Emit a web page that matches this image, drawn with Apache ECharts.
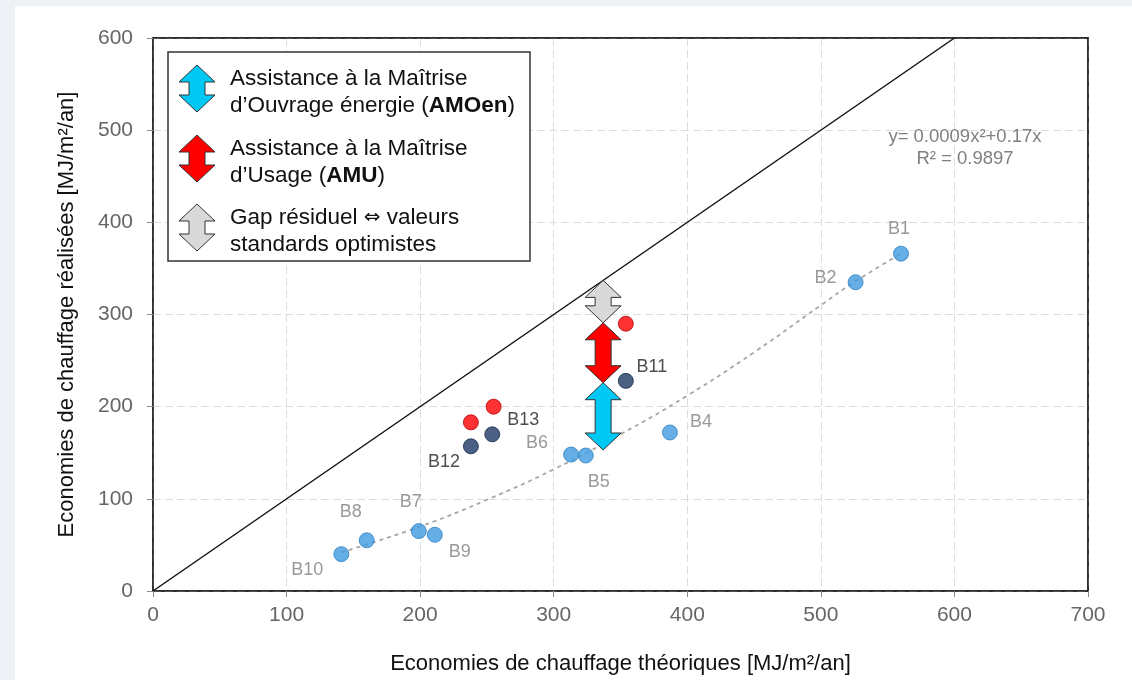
<!DOCTYPE html>
<html>
<head>
<meta charset="utf-8">
<script src="https://cdn.jsdelivr.net/npm/echarts@6/dist/echarts.min.js"></script>
<style>
  html, body { margin: 0; padding: 0; background: #eef2f6; }
  #chart { width: 1132px; height: 680px; }
</style>
</head>
<body>
<div id="chart"></div>
<script>
// buildings measured (B1..B10)
const lightNames = ['B1', 'B2', 'B4', 'B5', 'B6', 'B7', 'B8', 'B9', 'B10']
const lightX = [560, 526, 387, 324, 313, 199, 160, 211, 141]
const lightY = [366, 335, 172, 147, 148, 65, 55, 61, 40]

// buildings with AMOen (after)
const darkNames = ['B11', 'B12', 'B13']
const darkX = [354, 238, 254]
const darkY = [228, 157, 170]

// same buildings with AMU
const redX = [354, 238, 255]
const redY = [290, 183, 200]

// dotted trend curve
const trendX = [141, 200, 250, 300, 350, 400, 450, 500, 526, 560]
const trendY = [42, 70, 99, 132, 170, 212, 259, 310, 336, 366]

// y = x reference line
const diagX = [0, 600]
const diagY = [0, 600]

// stacked gap arrows at x = 337
const arrowX = [337, 337, 337]
const arrowTop = [337, 291, 226]
const arrowBottom = [291, 226, 153]

const xTicks = [0, 100, 200, 300, 400, 500, 600, 700]
const yTicks = [0, 100, 200, 300, 400, 500, 600]

const arrowColors = ['#d9d9d9', '#ff0000', '#00c8f5']
const labelOffsets = {
  B1: [-2, -25], B2: [-30, -4], B4: [31, -10], B5: [13, 27], B6: [-34, -12],
  B7: [-8, -29], B8: [-16, -28], B9: [25, 17], B10: [-34, 16],
  B11: [26, -14], B12: [-27, 16], B13: [31, -14],
}

function arrowPoints(cx, top, bot, hw, sw, hh) {
  return [
    [cx, top], [cx + hw, top + hh], [cx + sw, top + hh], [cx + sw, bot - hh],
    [cx + hw, bot - hh], [cx, bot], [cx - hw, bot - hh], [cx - sw, bot - hh],
    [cx - sw, top + hh], [cx - hw, top + hh],
  ]
}

function pointLabel(color) {
  return {
    show: true,
    position: 'inside',
    color: color,
    fontSize: 18,
    fontFamily: 'Liberation Sans',
    formatter: p => p.name,
  }
}

function withLabels(names, xs, ys) {
  return names.map((n, i) => ({
    name: n,
    value: [xs[i], ys[i]],
    label: { offset: labelOffsets[n] },
  }))
}

const chart = echarts.init(document.getElementById('chart'))
const font = 'Liberation Sans'

const legendItems = [
  { color: '#00c8f5', top: 65, lines: ['Assistance à la Maîtrise', 'd’Ouvrage énergie ({b|AMOen})'] },
  { color: '#ff0000', top: 135, lines: ['Assistance à la Maîtrise', 'd’Usage ({b|AMU})'] },
  { color: '#d9d9d9', top: 204, lines: ['Gap résiduel {s|⇔} valeurs', 'standards optimistes'] },
]

const legendGraphics = [
  {
    type: 'rect',
    shape: { x: 168, y: 52, width: 362, height: 209 },
    style: { fill: '#fff', stroke: '#333', lineWidth: 1.5 },
    z: 10,
  },
]
legendItems.forEach(it => {
  legendGraphics.push({
    type: 'polygon',
    shape: { points: arrowPoints(197, it.top, it.top + 47, 18, 8, 17) },
    style: { fill: it.color, stroke: '#333', lineWidth: 1 },
    z: 11,
  })
  legendGraphics.push({
    type: 'text',
    x: 230,
    y: it.top,
    style: {
      text: it.lines.join('\n'),
      fill: '#111',
      fontSize: 22.5,
      fontFamily: font,
      lineHeight: 27,
      rich: {
        b: { fontWeight: 'bold', fontSize: 22.5, fontFamily: font, fill: '#111', lineHeight: 27 },
        s: { fontSize: 20, fontFamily: 'DejaVu Sans', fill: '#111', lineHeight: 27 },
      },
    },
    z: 11,
  })
})

const frameAxis = {
  show: true,
  axisLine: { show: true, onZero: false, lineStyle: { color: '#222', width: 1.5 } },
  axisTick: { show: false },
  axisLabel: { show: false },
  splitLine: { show: false },
}

chart.setOption({
  backgroundColor: '#eef2f6',
  animation: false,
  graphic: [
    {
      type: 'rect',
      shape: { x: 15, y: 6, width: 1117, height: 674 },
      style: { fill: '#fff' },
      z: -10,
    },
    ...legendGraphics,
    {
      type: 'text',
      x: 965,
      y: 126,
      style: {
        text: 'y= 0.0009x²+0.17x\nR² = 0.9897',
        fill: '#808080',
        fontSize: 18.5,
        fontFamily: font,
        lineHeight: 22,
        align: 'center',
      },
      z: 5,
    },
  ],
  grid: {
    left: 153,
    top: 38,
    width: 935,
    height: 553,
    show: true,
    backgroundColor: '#fff',
    borderColor: '#222',
    borderWidth: 1.5,
  },
  xAxis: [
    {
      type: 'value',
      min: xTicks[0],
      max: xTicks[xTicks.length - 1],
      interval: 100,
      name: 'Economies de chauffage théoriques [MJ/m²/an]',
      nameLocation: 'middle',
      nameGap: 62,
      nameTextStyle: { color: '#111', fontSize: 22, fontFamily: font },
      axisLine: { lineStyle: { color: '#222', width: 1.5 } },
      axisTick: { show: true, length: 6, lineStyle: { color: '#888' } },
      axisLabel: { color: '#666', fontSize: 21, fontFamily: font, margin: 14 },
      splitLine: { show: true, lineStyle: { color: '#dcdcdc', type: [8, 4] } },
    },
    { type: 'value', position: 'top', min: 0, max: 700, ...frameAxis },
  ],
  yAxis: [
    {
      type: 'value',
      min: yTicks[0],
      max: yTicks[yTicks.length - 1],
      interval: 100,
      name: 'Economies de chauffage réalisées [MJ/m²/an]',
      nameLocation: 'middle',
      nameGap: 75,
      nameTextStyle: { color: '#111', fontSize: 22, fontFamily: font },
      axisLine: { lineStyle: { color: '#222', width: 1.5 } },
      axisTick: { show: true, length: 6, lineStyle: { color: '#888' } },
      axisLabel: { color: '#666', fontSize: 21, fontFamily: font, margin: 20 },
      splitLine: { show: true, lineStyle: { color: '#dcdcdc', type: [8, 4] } },
    },
    { type: 'value', position: 'right', min: 0, max: 600, ...frameAxis },
  ],
  series: [
    {
      type: 'line',
      data: diagX.map((x, i) => [x, diagY[i]]),
      symbol: 'none',
      lineStyle: { color: '#111', width: 1.5 },
      z: 3,
    },
    {
      type: 'line',
      data: trendX.map((x, i) => [x, trendY[i]]),
      smooth: true,
      symbol: 'none',
      lineStyle: { color: '#a6a6a6', width: 1.8, type: [4, 4] },
      z: 3,
    },
    {
      type: 'custom',
      data: arrowX.map((x, i) => [x, arrowTop[i], arrowBottom[i]]),
      encode: { x: 0, y: [1, 2] },
      renderItem: (params, api) => {
        const x = api.value(0)
        const top = api.coord([x, api.value(1)])
        const bot = api.coord([x, api.value(2)])
        return {
          type: 'polygon',
          shape: { points: arrowPoints(top[0], top[1], bot[1], 18, 8, 17) },
          style: { fill: arrowColors[params.dataIndex], stroke: '#333', lineWidth: 1 },
        }
      },
      z: 4,
    },
    {
      type: 'scatter',
      data: withLabels(lightNames, lightX, lightY),
      symbolSize: 15,
      itemStyle: { color: '#3f9be0', borderColor: '#2f7fbf', borderWidth: 1 },
      label: pointLabel('#808080'),
      z: 5,
    },
    {
      type: 'scatter',
      data: redX.map((x, i) => [x, redY[i]]),
      symbolSize: 15,
      itemStyle: { color: '#ff0000', borderColor: '#b00000', borderWidth: 1 },
      z: 5,
    },
    {
      type: 'scatter',
      data: withLabels(darkNames, darkX, darkY),
      symbolSize: 15,
      itemStyle: { color: '#1f3864', borderColor: '#142a4c', borderWidth: 1 },
      label: pointLabel('#222'),
      z: 5,
    },
  ],
})
</script>
</body>
</html>
